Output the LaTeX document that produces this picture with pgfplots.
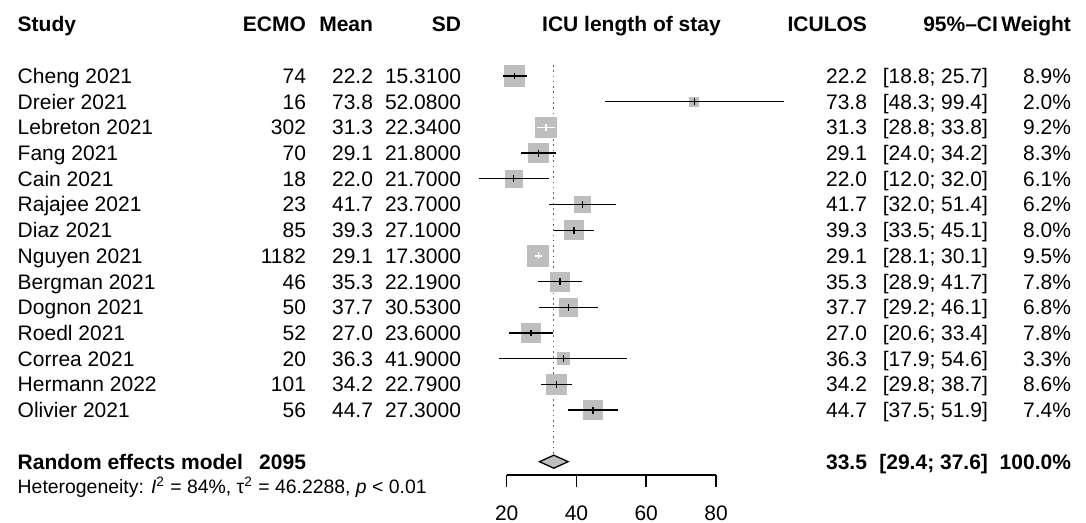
\documentclass[border=0pt]{standalone}
\usepackage{fontspec}
\setmainfont{Liberation Sans}
\usepackage{pgfplots}
\usepackage{pgfplotstable}
\pgfplotsset{compat=1.18}

\definecolor{sqgray}{RGB}{190,190,190}
\definecolor{refgray}{RGB}{95,95,95}

\newcommand\rf{\fontsize{10.5bp}{12bp}\selectfont}
\newcommand\hf{\fontsize{9.7bp}{11bp}\selectfont}

% row, estimate, 95% limits, weight (%), flag for a CI that fits inside its square
\pgfplotstableread{
row est  lo   hi   w   inside
1  22.2 18.8 25.7 8.9 0
2  73.8 48.3 99.4 2.0 0
3  31.3 28.8 33.8 9.2 1
4  29.1 24.0 34.2 8.3 0
5  22.0 12.0 32.0 6.1 0
6  41.7 32.0 51.4 6.2 0
7  39.3 33.5 45.1 8.0 0
8  29.1 28.1 30.1 9.5 1
9  35.3 28.9 41.7 7.8 0
10 37.7 29.2 46.1 6.8 0
11 27.0 20.6 33.4 7.8 0
12 36.3 17.9 54.6 3.3 0
13 34.2 29.8 38.7 8.6 0
14 44.7 37.5 51.9 7.4 0
}\studies

\begin{document}
\begin{tikzpicture}[x=0.5bp, y=-0.5bp]
\path[use as bounding box] (0,0) rectangle (1086,523);

\begin{axis}[
  at={(253.35bp,-237.5bp)}, anchor=south west,
  scale only axis, width=104.65bp, height=237.5bp,
  xmin=20, xmax=80, ymin=-475, ymax=0,
  clip=false,
  axis x line=bottom, axis y line=none,
  x axis line style={-, line width=0.75bp, black},
  xtick={20,40,60,80},
  tick align=outside, major tick length=6bp,
  every tick/.style={black, line width=0.75bp},
  /pgf/number format/assume math mode=true,
  xticklabel style={font=\rf, anchor=base, yshift=-16.75bp},
]
% reference line at the pooled estimate
\addplot[refgray, line width=0.65bp, dash pattern=on 0.8bp off 1.85bp]
  coordinates {(33.5,-65) (33.5,-455)};

% study squares, side proportional to sqrt(weight):
% a thick butt-capped stroke as long as it is wide
\addplot[sqgray, no marks,
  visualization depends on={3.57*sqrt(\thisrow{w}) \as \side},
  quiver={u=2.046*sqrt(\thisrow{w}), v=0,
          every arrow/.append style={line width=\side bp, line cap=butt}}]
  table[x expr={\thisrow{est}-1.023*sqrt(\thisrow{w})},
        y expr={-(50.3+25.7*\thisrow{row})}] {\studies};

% confidence intervals drawn in black
\addplot[black, only marks, mark=|, mark size=1.75, line width=0.65bp,
  x filter/.expression={\thisrow{inside}>0 ? nan : x},
  error bars/.cd, x dir=both, x explicit, error mark=none,
  error bar style={line width=0.65bp, black}]
  table[x=est, y expr={-(50.3+25.7*\thisrow{row})},
        x error minus expr={\thisrow{est}-\thisrow{lo}},
        x error plus expr={\thisrow{hi}-\thisrow{est}}] {\studies};

% confidence intervals lying within their square, drawn in white
\addplot[white, only marks, mark=|, mark size=1.75, line width=0.65bp,
  x filter/.expression={\thisrow{inside}>0 ? x : nan},
  error bars/.cd, x dir=both, x explicit, error mark=none,
  error bar style={line width=0.65bp, white}]
  table[x=est, y expr={-(50.3+25.7*\thisrow{row})},
        x error minus expr={\thisrow{est}-\thisrow{lo}},
        x error plus expr={\thisrow{hi}-\thisrow{est}}] {\studies};

% pooled diamond: 33.5 [29.4; 37.6]
\addplot[draw=black, fill=sqgray, line width=0.65bp]
  coordinates {(29.4,-461.7) (33.5,-455.2) (37.6,-461.7) (33.5,-468.2)} -- cycle;
\end{axis}

% column headings
\node[anchor=base west] at (10.7,31.7) {\rf\bfseries Study};
\node[anchor=base east] at (313,31.7) {\rf\bfseries ECMO};
\node[anchor=base east] at (380,31.7) {\rf\bfseries Mean};
\node[anchor=base east] at (468,31.7) {\rf\bfseries SD};
\node[anchor=base] at (631.5,31.7) {\rf\bfseries ICU length of stay};
\node[anchor=base east] at (874,31.7) {\rf\bfseries ICULOS};
\node[anchor=base east] at (1005,31.7) {\rf\bfseries 95\%–CI};
\node[anchor=base east] at (1078,31.7) {\rf\bfseries Weight};

% study rows
\foreach \r/\name/\n/\m/\sd/\est/\ci/\wt in {
  1/Cheng 2021/74/22.2/15.3100/22.2/{[18.8; 25.7]}/8.9,
  2/Dreier 2021/16/73.8/52.0800/73.8/{[48.3; 99.4]}/2.0,
  3/Lebreton 2021/302/31.3/22.3400/31.3/{[28.8; 33.8]}/9.2,
  4/Fang 2021/70/29.1/21.8000/29.1/{[24.0; 34.2]}/8.3,
  5/Cain 2021/18/22.0/21.7000/22.0/{[12.0; 32.0]}/6.1,
  6/Rajajee 2021/23/41.7/23.7000/41.7/{[32.0; 51.4]}/6.2,
  7/Diaz 2021/85/39.3/27.1000/39.3/{[33.5; 45.1]}/8.0,
  8/Nguyen 2021/1182/29.1/17.3000/29.1/{[28.1; 30.1]}/9.5,
  9/Bergman 2021/46/35.3/22.1900/35.3/{[28.9; 41.7]}/7.8,
  10/Dognon 2021/50/37.7/30.5300/37.7/{[29.2; 46.1]}/6.8,
  11/Roedl 2021/52/27.0/23.6000/27.0/{[20.6; 33.4]}/7.8,
  12/Correa 2021/20/36.3/41.9000/36.3/{[17.9; 54.6]}/3.3,
  13/Hermann 2022/101/34.2/22.7900/34.2/{[29.8; 38.7]}/8.6,
  14/Olivier 2021/56/44.7/27.3000/44.7/{[37.5; 51.9]}/7.4}
{
  \pgfmathsetmacro\yb{83.5+25.7*(\r-1)}
  \node[anchor=base west] at (10.7,\yb) {\rf \name};
  \node[anchor=base east] at (313,\yb) {\rf \n};
  \node[anchor=base east] at (380,\yb) {\rf \m};
  \node[anchor=base east] at (468,\yb) {\rf \sd};
  \node[anchor=base east] at (874,\yb) {\rf \est};
  \node[anchor=base east] at (995,\yb) {\rf \ci};
  \node[anchor=base east] at (1078,\yb) {\rf \wt\%};
}

% pooled row
\node[anchor=base west] at (10.7,470) {\rf\bfseries Random effects model};
\node[anchor=base east] at (313,470) {\rf\bfseries 2095};
\node[anchor=base east] at (874,470) {\rf\bfseries 33.5};
\node[anchor=base east] at (995,470) {\rf\bfseries [29.4; 37.6]};
\node[anchor=base east] at (1078,470) {\rf\bfseries 100.0\%};

% heterogeneity statistics
\node[anchor=base west] at (10.7,494) {\hf Heterogeneity: \textit{I}\textsuperscript{2} = 84\%, τ\textsuperscript{2} = 46.2288, \textit{p} < 0.01};
\end{tikzpicture}
\end{document}
